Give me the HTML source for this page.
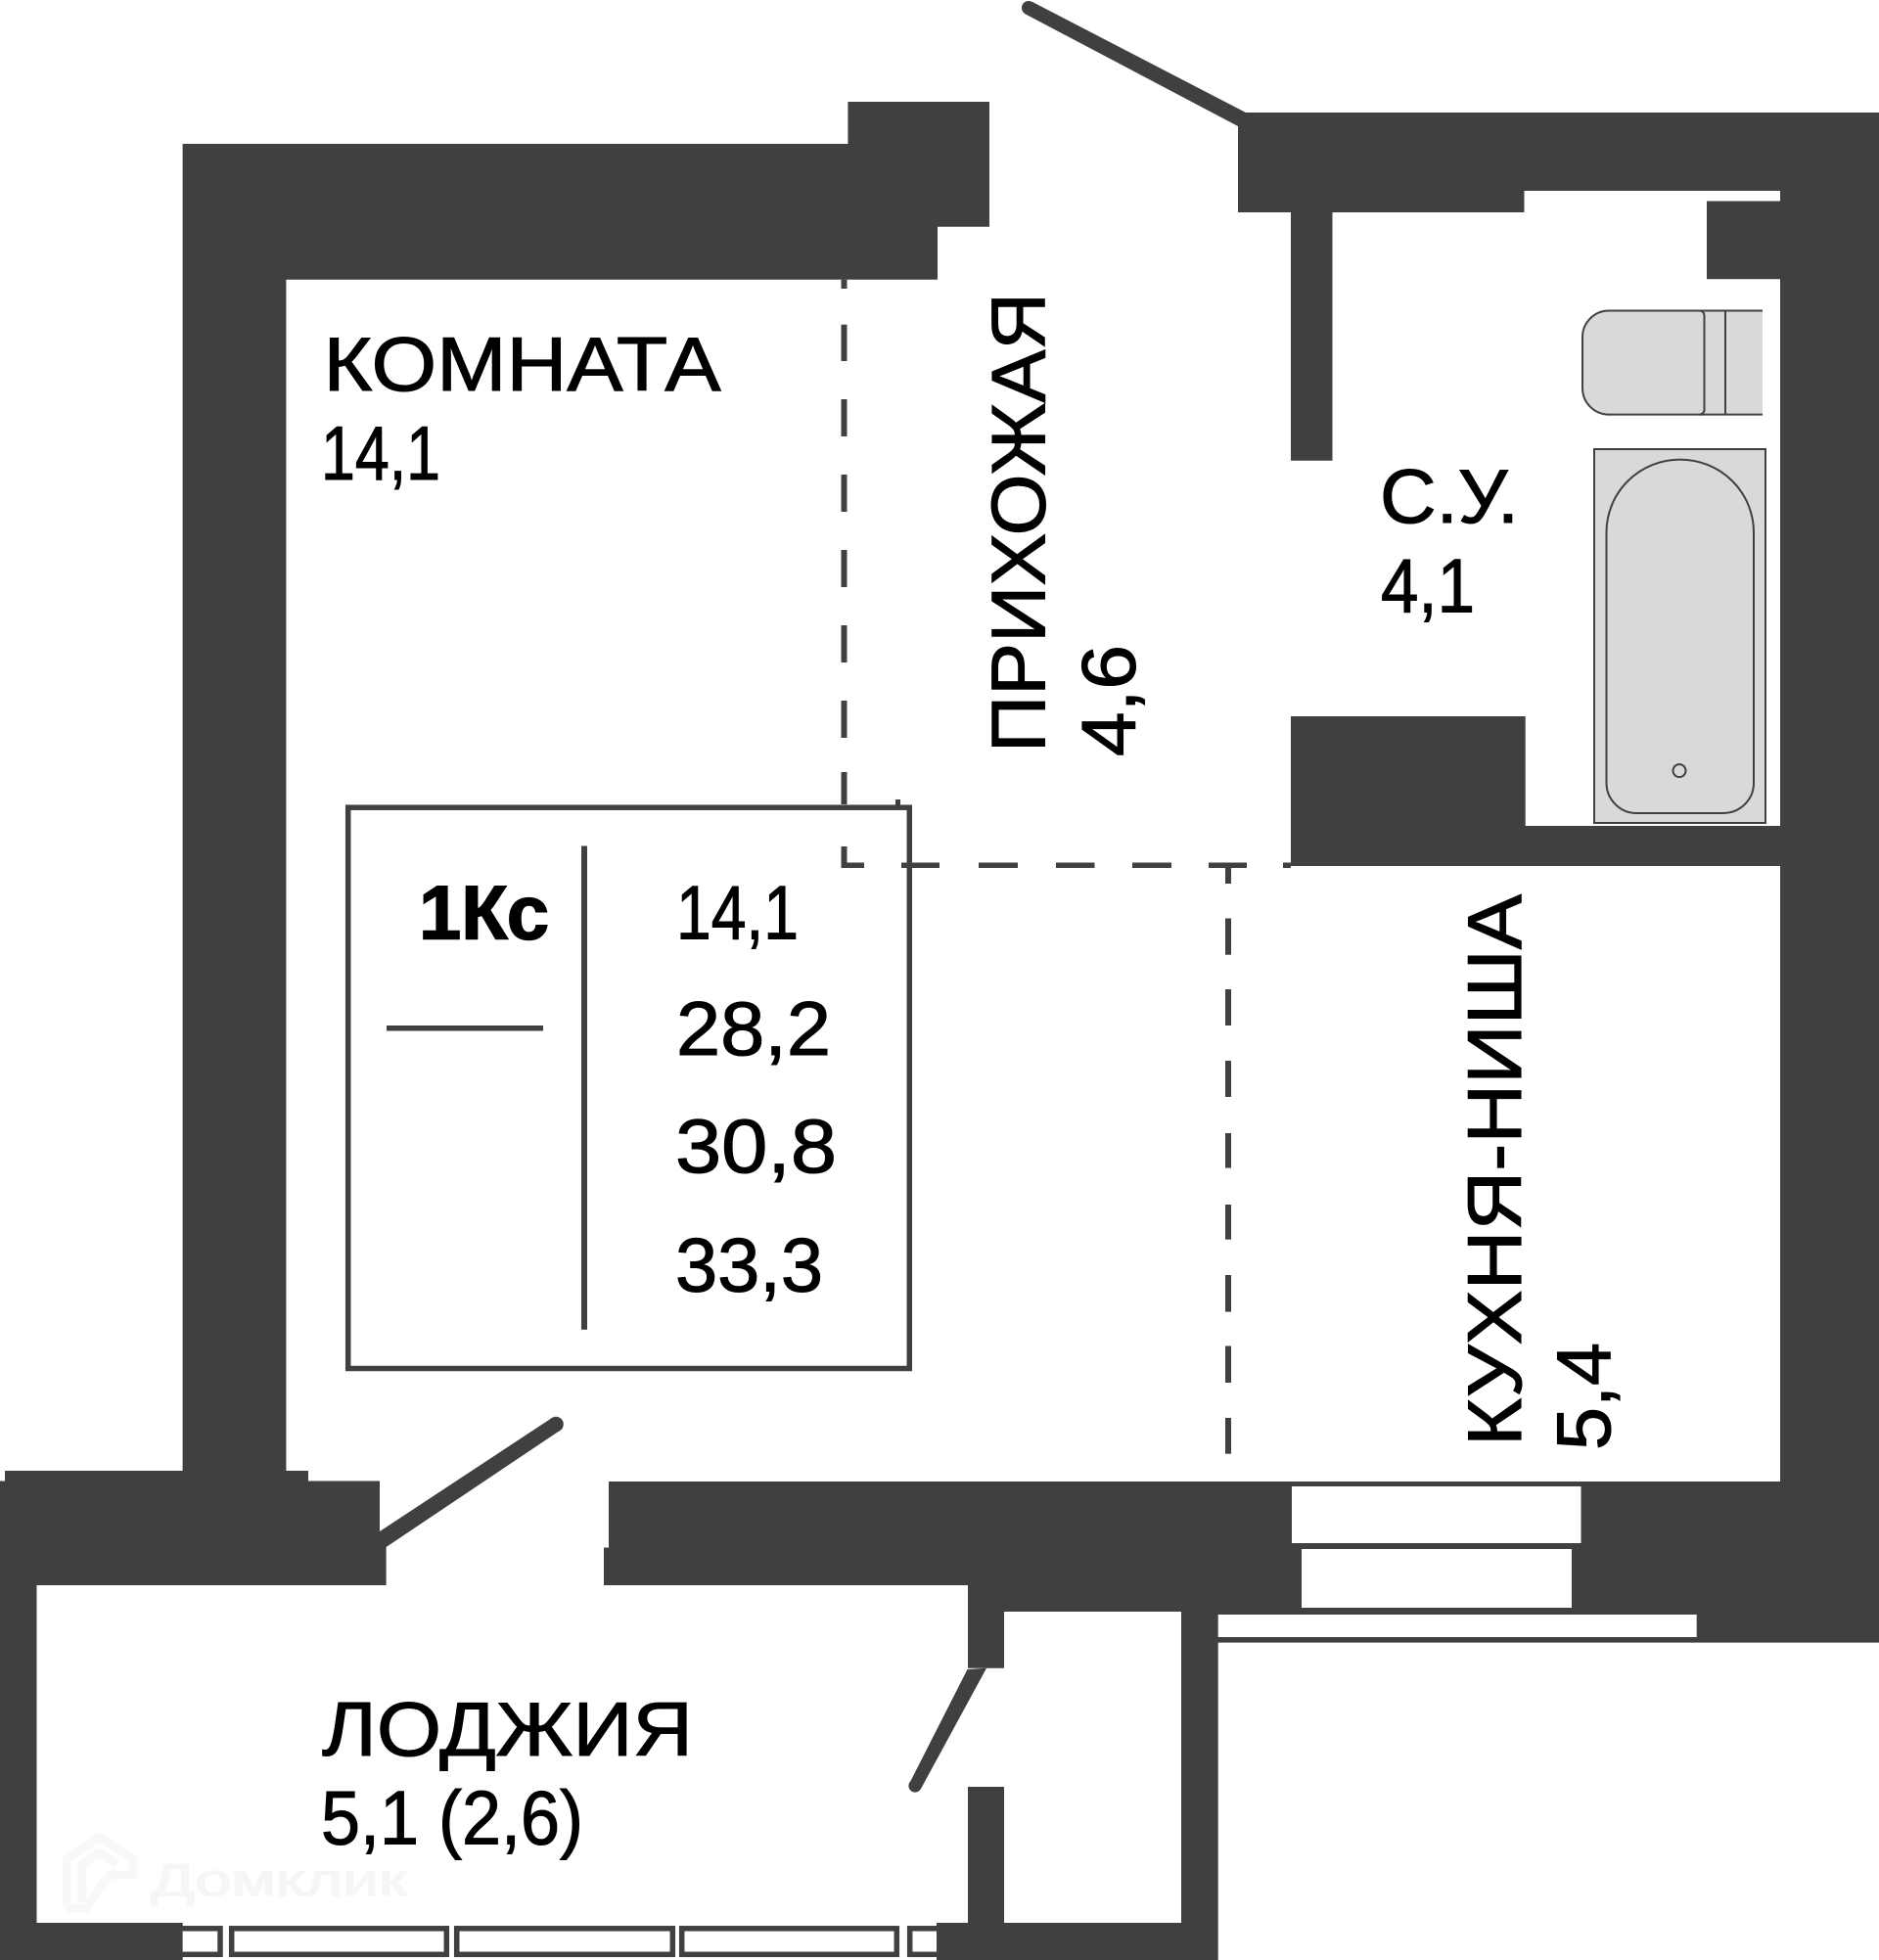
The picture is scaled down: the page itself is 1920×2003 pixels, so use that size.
<!DOCTYPE html>
<html lang="ru"><head><meta charset="utf-8"><title>1Кс</title>
<style>
html,body{margin:0;padding:0;background:#fff;width:1920px;height:2003px;overflow:hidden}
svg{display:block}
text{font-family:"Liberation Sans",sans-serif;font-size:78px;fill:#000;stroke:#000;stroke-width:1.1}
</style></head><body>
<svg xmlns="http://www.w3.org/2000/svg" width="1920" height="2003" viewBox="0 0 1920 2003">
<g fill="#404041">
<!-- top-left wall -->
<polygon points="186.6,147 866.4,147 866.4,104 1011,104 1011,231.7 958,231.7 958,285.7 292.4,285.7 292.4,1503 315,1503 315,1513.5 388,1513.5 388,1581 394.6,1581 394.6,1620 37.5,1620 37.5,1965 186.6,1965 186.6,2003 0,2003 0,1513.5 5,1513.5 5,1503 186.6,1503"/>
<!-- top-right wall and right wall -->
<polygon points="1265,115 1920,115 1920,1678.6 1244.7,1678.6 1244.7,2003 957,2003 957,1965 989,1965 989,1826 1026,1826 1026,1965 1207,1965 1207,1647 1026,1647 1026,1704.7 989,1704.7 989,1620 617,1620 617,1581.5 622,1581.5 622,1514 1819,1514 1819,885 1319,885 1319,732 1558.7,732 1558.7,844 1819,844 1819,285.3 1744,285.3 1744,205.5 1819,205.5 1819,195 1557.5,195 1557.5,217 1361.5,217 1361.5,470.7 1319,470.7 1319,217 1265,217"/>
<!-- doors -->
<polygon points="1055,2 1273,115 1265,129 1047,14"/>
<circle cx="1051" cy="8" r="7"/>
<polygon points="388,1565 564,1449 572,1462 394.6,1581 388,1581"/>
<circle cx="568" cy="1455.5" r="7.8"/>
<polygon points="988.5,1706 1008,1704.7 941,1828 929,1823"/>
<circle cx="935" cy="1825" r="6.6"/>
</g>
<!-- windows -->
<g fill="#fff">
<rect x="1320" y="1519" width="295.5" height="58"/>
<rect x="1330" y="1583" width="276" height="60"/>
<rect x="1244.7" y="1650" width="489" height="23"/>
</g>
<g fill="#fff" stroke="#404041" stroke-width="5.5">
<rect x="170" y="1970.8" width="55" height="26.5"/>
<rect x="236.7" y="1970.8" width="219.6" height="26.5"/>
<rect x="466.7" y="1970.8" width="220.6" height="26.5"/>
<rect x="696.7" y="1970.8" width="219.6" height="26.5"/>
<rect x="929.7" y="1970.8" width="40" height="26.5"/>
</g>
<rect x="957" y="1965" width="40" height="38" fill="#404041"/>
<rect x="0" y="1965" width="186.6" height="38" fill="#404041"/>
<!-- toilet -->
<g fill="#d9d9d9" stroke="#404041" stroke-width="2">
<path d="M1801,317.5H1644a27,27 0 0 0 -27,27V396.6a27,27 0 0 0 27,27H1801Z" stroke="none"/>
<path d="M1801,317.5H1644a27,27 0 0 0 -27,27V396.6a27,27 0 0 0 27,27H1801" fill="none"/>
<path d="M1736,317.5a5,5 0 0 1 5.500,5V418a5,5 0 0 1 -5.500,5.600" fill="none"/>
<line x1="1763" y1="317.500" x2="1763" y2="423.600"/>
<!-- bath -->
<rect x="1629" y="459" width="175" height="382"/>
<path d="M1641.500,544a75.250,74.400 0 0 1 150.500,0V800a31,31 0 0 1 -31,31H1672.500a31,31 0 0 1 -31,-31Z"/>
<circle cx="1716" cy="787.600" r="6.500" fill="none"/>
</g>
<!-- dashed -->
<g fill="#404041">
<rect x="859.500" y="285.700" width="6" height="9.300"/>
<rect x="859.500" y="331.700" width="6" height="37.300"/>
<rect x="859.500" y="408" width="6" height="38"/>
<rect x="859.500" y="485" width="6" height="38"/>
<rect x="859.500" y="562" width="6" height="38"/>
<rect x="859.500" y="639" width="6" height="38"/>
<rect x="859.500" y="716" width="6" height="38"/>
<rect x="859.500" y="789" width="6" height="33"/>
<rect x="859.500" y="865" width="6" height="22"/>
<rect x="859.500" y="881.500" width="23.500" height="5.500"/>
<rect x="915" y="817" width="5" height="6"/>
<rect x="921" y="881.500" width="39" height="5.500"/>
<rect x="1000" y="881.500" width="40" height="5.500"/>
<rect x="1079" y="881.500" width="39.500" height="5.500"/>
<rect x="1157" y="881.500" width="40" height="5.500"/>
<rect x="1235" y="881.500" width="39" height="5.500"/>
<rect x="1311" y="881.500" width="8" height="5.500"/>
<rect x="1252" y="885" width="6" height="18"/>
<rect x="1252" y="938.500" width="6" height="37.200"/>
<rect x="1252" y="1011" width="6" height="37"/>
<rect x="1252" y="1084" width="6" height="37"/>
<rect x="1252" y="1158" width="6" height="35.600"/>
<rect x="1252" y="1231" width="6" height="35.700"/>
<rect x="1252" y="1303" width="6" height="37.600"/>
<rect x="1252" y="1375.500" width="6" height="37.500"/>
<rect x="1252" y="1449" width="6" height="36.700"/>
</g>
<!-- legend box -->
<rect x="355.700" y="825.200" width="573.600" height="573.300" fill="none" stroke="#404041" stroke-width="5.500"/>
<rect x="594" y="864.500" width="6" height="494.300" fill="#404041"/>
<rect x="395" y="1048" width="160" height="5.500" fill="#404041"/>
<!-- watermark -->
<g fill="none" stroke="#f8f8f8" stroke-width="9" stroke-linejoin="round">
<path d="M68,1900L101,1877L136,1900V1916H112L88,1950H74Q68,1950 68,1944Z"/>
<path d="M84,1944V1905L101,1893L120,1905"/>
</g>
<!-- labels -->
<text x="330.500" y="399" textLength="406" lengthAdjust="spacingAndGlyphs">КОМНАТА</text>
<text x="328" y="490" textLength="122" lengthAdjust="spacingAndGlyphs">14,1</text>
<text transform="translate(1067.500 769) rotate(-90)" textLength="470" lengthAdjust="spacingAndGlyphs">ПРИХОЖАЯ</text>
<text transform="translate(1159.600 773) rotate(-90)" textLength="114" lengthAdjust="spacingAndGlyphs">4,6</text>
<text x="1410" y="534" textLength="142" lengthAdjust="spacingAndGlyphs">С.У.</text>
<text x="1411" y="625.700" textLength="96" lengthAdjust="spacingAndGlyphs">4,1</text>
<text transform="translate(1554 1478) rotate(-90)" textLength="564" lengthAdjust="spacingAndGlyphs">КУХНЯ-НИША</text>
<text transform="translate(1645 1482) rotate(-90)" textLength="110" lengthAdjust="spacingAndGlyphs">5,4</text>
<text x="329" y="1794" textLength="379" lengthAdjust="spacingAndGlyphs">ЛОДЖИЯ</text>
<text x="328" y="1884.600" textLength="268" lengthAdjust="spacingAndGlyphs">5,1 (2,6)</text>
<text x="428" y="959.600" textLength="133" lengthAdjust="spacingAndGlyphs" style="font-weight:bold;stroke-width:1.500">1Кс</text>
<text x="691" y="959.600" textLength="125" lengthAdjust="spacingAndGlyphs">14,1</text>
<text x="691" y="1078" textLength="158" lengthAdjust="spacingAndGlyphs">28,2</text>
<text x="690" y="1198" textLength="165" lengthAdjust="spacingAndGlyphs">30,8</text>
<text x="690" y="1319.600" textLength="151" lengthAdjust="spacingAndGlyphs">33,3</text>
<text x="154" y="1937" textLength="262" lengthAdjust="spacingAndGlyphs" style="font-size:46px;fill:#f6f6f6;stroke:#f6f6f6;stroke-width:1.500">Домклик</text>
</svg>
</body></html>
